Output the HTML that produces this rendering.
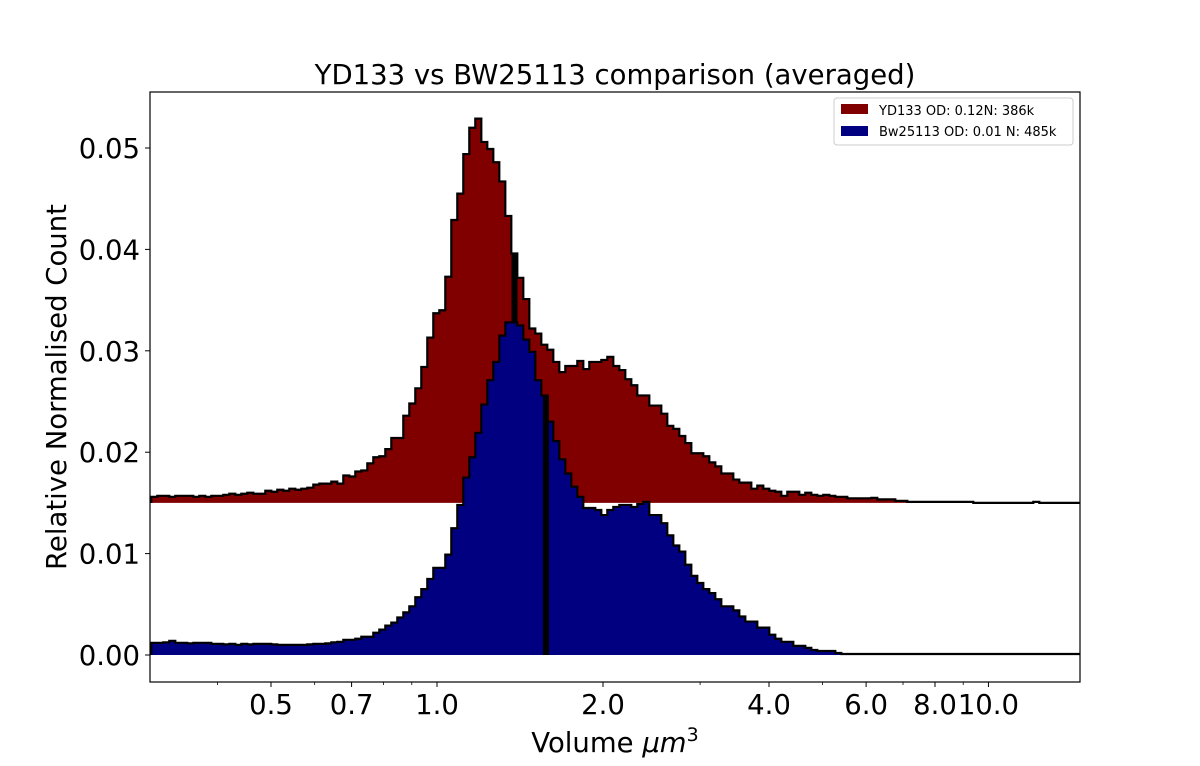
<!DOCTYPE html>
<html><head><meta charset="utf-8"><style>
html,body{margin:0;padding:0;background:#fff;}
svg{display:block;font-family:"DejaVu Sans","Liberation Sans",sans-serif;}
</style></head><body>
<svg id="chart" width="1200" height="766" viewBox="0 0 1200 766" xmlns="http://www.w3.org/2000/svg">
<rect x="0" y="0" width="1200" height="766" fill="#fff"/>
<text x="615" y="84" font-size="27.5" text-anchor="middle">YD133 vs BW25113 comparison (averaged)</text>
<defs><clipPath id="plotclip"><rect x="150" y="92" width="930" height="590"/></clipPath></defs>
<g id="plot" clip-path="url(#plotclip)"></g>
<g id="axes"></g>
<text x="615" y="752" font-size="27.5" text-anchor="middle">Volume <tspan font-style="italic">μm</tspan><tspan font-size="19" dy="-11">3</tspan></text>
<text transform="translate(66,387) rotate(-90)" font-size="27.5" text-anchor="middle">Relative Normalised Count</text>
<g>
<rect x="834" y="98" width="239" height="47" rx="3" fill="#fff" stroke="#ccc" stroke-width="1"/>
<rect x="841" y="104" width="27" height="10" fill="#800000"/>
<text x="879" y="115" font-size="13">YD133 OD: 0.12N: 386k</text>
<rect x="841" y="126" width="27" height="10" fill="#000080"/>
<text x="879" y="136" font-size="13">Bw25113 OD: 0.01 N: 485k</text>
</g>
</svg>
<script>
// histogram values (units of 1e-3), log-spaced bins
const redValues = [15.6,15.7,15.7,15.6,15.7,15.7,15.7,15.6,15.7,15.6,15.7,15.7,15.8,
15.9,15.8,15.9,16.0,15.9,15.9,
16.2,16.1,16.3,16.2,16.4,16.3,16.4,16.5,
16.8,16.9,16.9,17.1,16.9,
17.7,17.6,18.1,18.2,18.9,19.5,19.6,20.3,21.4,21.4,
23.6,24.8,26.3,28.4,31.3,33.7,34.0,37.3,42.9,45.5,49.4,52.0,52.9,50.6,49.9,48.6,46.7,43.3,39.6,37.2,35.1,32.2,31.7,30.6,30.1,28.9,27.9,28.5,28.5,29.0,28.2,28.9,28.9,29.1,29.4,28.5,28.1,27.2,26.6,
25.6,25.6,24.6,24.6,23.8,22.6,22.3,21.6,20.9,19.9,19.9,19.6,19.0,18.6,17.9,17.9,17.3,17.0,17.0,16.4,16.7,16.4,16.2,16.1,15.7,16.1,16.1,15.8,16.0,15.8,15.7,15.8,15.7,15.6,15.6,
15.45,15.45,15.45,15.45,15.5,15.35,15.35,15.35,15.2,15.2,
15.1,15.1,15.1,15.1,15.1,15.1,15.1,15.1,15.1,15.1,15.1,
15.0,15.0,15.0,15.0,15.0,15.0,15.0,15.0,15.0,15.0,15.1,15.0,15.0,15.0,15.0,15.0,15.0,15.0];
const blueValues = [1.2,1.2,1.25,1.4,1.2,1.2,1.15,1.2,1.2,1.2,1.1,1.1,1.05,1.1,1.0,
1.1,1.05,1.1,1.1,1.1,1.05,1.0,1.0,1.0,1.0,1.0,1.05,1.1,1.1,1.15,1.25,1.3,1.5,1.5,1.6,1.8,1.8,
2.2,2.5,2.9,3.2,3.7,4.2,4.8,5.7,6.5,7.5,8.6,8.6,9.9,12.5,14.8,17.5,19.5,21.9,24.7,27.1,28.9,31.5,32.8,32.8,32.5,31.1,29.9,27.1,25.6,23.0,21.1,19.3,17.9,16.6,15.6,14.5,14.5,14.3,13.8,14.3,14.6,14.8,14.8,14.6,14.9,15.1,
13.8,13.8,13.0,11.8,10.8,10.2,8.9,7.8,7.1,6.5,6.1,5.5,4.8,4.8,4.4,3.8,3.3,3.3,2.7,2.7,2.0,1.6,1.3,1.3,0.9,0.9,0.7,0.5,0.4,0.4,0.4,0.2,
0.1,0.1,0.1,0.1,0.1,0.1,0.1,0.1,0.1,0.1,0.1,0.1,0.1,0.1,0.1,0.1,0.1,0.1,0.1,0.1,
0.1,0.1,0.1,0.1,0.1,0.1,0.1,0.1,0.1,0.1,0.1,0.1,0.1,0.1,0.1,0.1,0.1,0.1,0.1,0.1];
const redBaseline = 15.0;
const markerVolumes = [1.382, 1.576];
const yTicks = [0, 0.01, 0.02, 0.03, 0.04, 0.05];
const yTickLabels = ["0.00","0.01","0.02","0.03","0.04","0.05"];
const xMajorTicks = [0.5, 0.7, 1.0, 2.0, 4.0, 6.0, 8.0, 10.0];
const xMajorLabels = ["0.5","0.7","1.0","2.0","4.0","6.0","8.0","10.0"];
const xMinorTicks = [0.3,0.4,0.6,0.8,0.9,3,5,7,9];
const binLogStart = -1.7211, binLogStep = 0.036145;

const NS = "http://www.w3.org/2000/svg";
const X0 = 150, X1 = 1080, Y0 = 92, Y1 = 682;
function xs(v){ return 437 + 166*Math.log2(v); }
function xl(l){ return 437 + 166*l; }
function ys(v){ return 655 - v*10140; }
function mk(tag, attrs, parent){ const e=document.createElementNS(NS,tag); for(const k in attrs) e.setAttribute(k,attrs[k]); parent.appendChild(e); return e; }
const plot = document.getElementById('plot');
const axes = document.getElementById('axes');

function drawHist(vals, base, fill, name){
  const g = mk('g', {}, plot);
  
  
  let d = ''; let outline = '';
  const yb = ys(base/1000);
  vals.forEach((v,i)=>{
    const xa = xl(binLogStart + i*binLogStep), xb = xl(binLogStart + (i+1)*binLogStep);
    const yv = ys(v/1000);
    d += `M${xa},${yb}L${xa},${yv}L${xb+0.3},${yv}L${xb+0.3},${yb}Z`;
    outline += (i===0 ? `M${xa},${yb}L${xa},${yv}` : `L${xa},${yv}`) + `L${xb},${yv}`;
  });
  const n = vals.length;
  outline += `L${xl(binLogStart+n*binLogStep)},${yb}`;
  const f = mk('path', {d:d, fill:fill, stroke:'none'}, g);
  
  
  const o = mk('path', {d:outline, fill:'none', stroke:'#000', 'stroke-width':2.2, 'stroke-linejoin':'miter'}, g);
  
  
}
function drawMarker(vol, vals, base, name){
  const i = Math.floor((Math.log2(vol)-binLogStart)/binLogStep);
  const x = xs(vol);
  const l = mk('line', {x1:x, x2:x, y1:ys(vals[i]/1000), y2:ys(base/1000), stroke:'#000', 'stroke-width':6}, plot);
  
  
}
{
  const lf = mk('rect', {x:X0, y:ys(redValues[0]/1000), width:xl(binLogStart)-X0+0.5, height:ys(redBaseline/1000)-ys(redValues[0]/1000), fill:'#800000'}, plot);
  
  
}
drawHist(redValues, redBaseline, '#800000', 'yd133-histogram');
drawMarker(markerVolumes[0], redValues, redBaseline, 'yd133-marker-line');
{
  const lf = mk('rect', {x:X0, y:ys(blueValues[0]/1000), width:xl(binLogStart)-X0+0.5, height:ys(0)-ys(blueValues[0]/1000), fill:'#000080'}, plot);
  
  
}
drawHist(blueValues, 0, '#000080', 'bw25113-histogram');
drawMarker(markerVolumes[1], blueValues, 0, 'bw25113-marker-line');

const fr = mk('rect', {x:X0, y:Y0, width:X1-X0, height:Y1-Y0, fill:'none', stroke:'#000', 'stroke-width':1.2}, axes);


yTicks.forEach((t,i)=>{
  const y = ys(t);
  const tk = mk('line', {x1:X0-5, x2:X0, y1:y, y2:y, stroke:'#000', 'stroke-width':1}, axes);
  
  
  const tx = mk('text', {x:X0-10, y:y+10, 'font-size':27.5, 'text-anchor':'end'}, axes);
  tx.textContent = yTickLabels[i];
  
  
});
xMajorTicks.forEach((t,i)=>{
  const x = xs(t);
  const tk = mk('line', {x1:x, x2:x, y1:Y1, y2:Y1+5, stroke:'#000', 'stroke-width':1}, axes);
  
  
  const tx = mk('text', {x:x, y:Y1+32, 'font-size':27.5, 'text-anchor':'middle'}, axes);
  tx.textContent = xMajorLabels[i];
  
  
});
xMinorTicks.forEach(t=>{
  const x = xs(t);
  if (x < X0 || x > X1) return;
  const tk = mk('line', {x1:x, x2:x, y1:Y1, y2:Y1+3, stroke:'#000', 'stroke-width':0.8}, axes);
  
  
});
</script>
</body></html>
